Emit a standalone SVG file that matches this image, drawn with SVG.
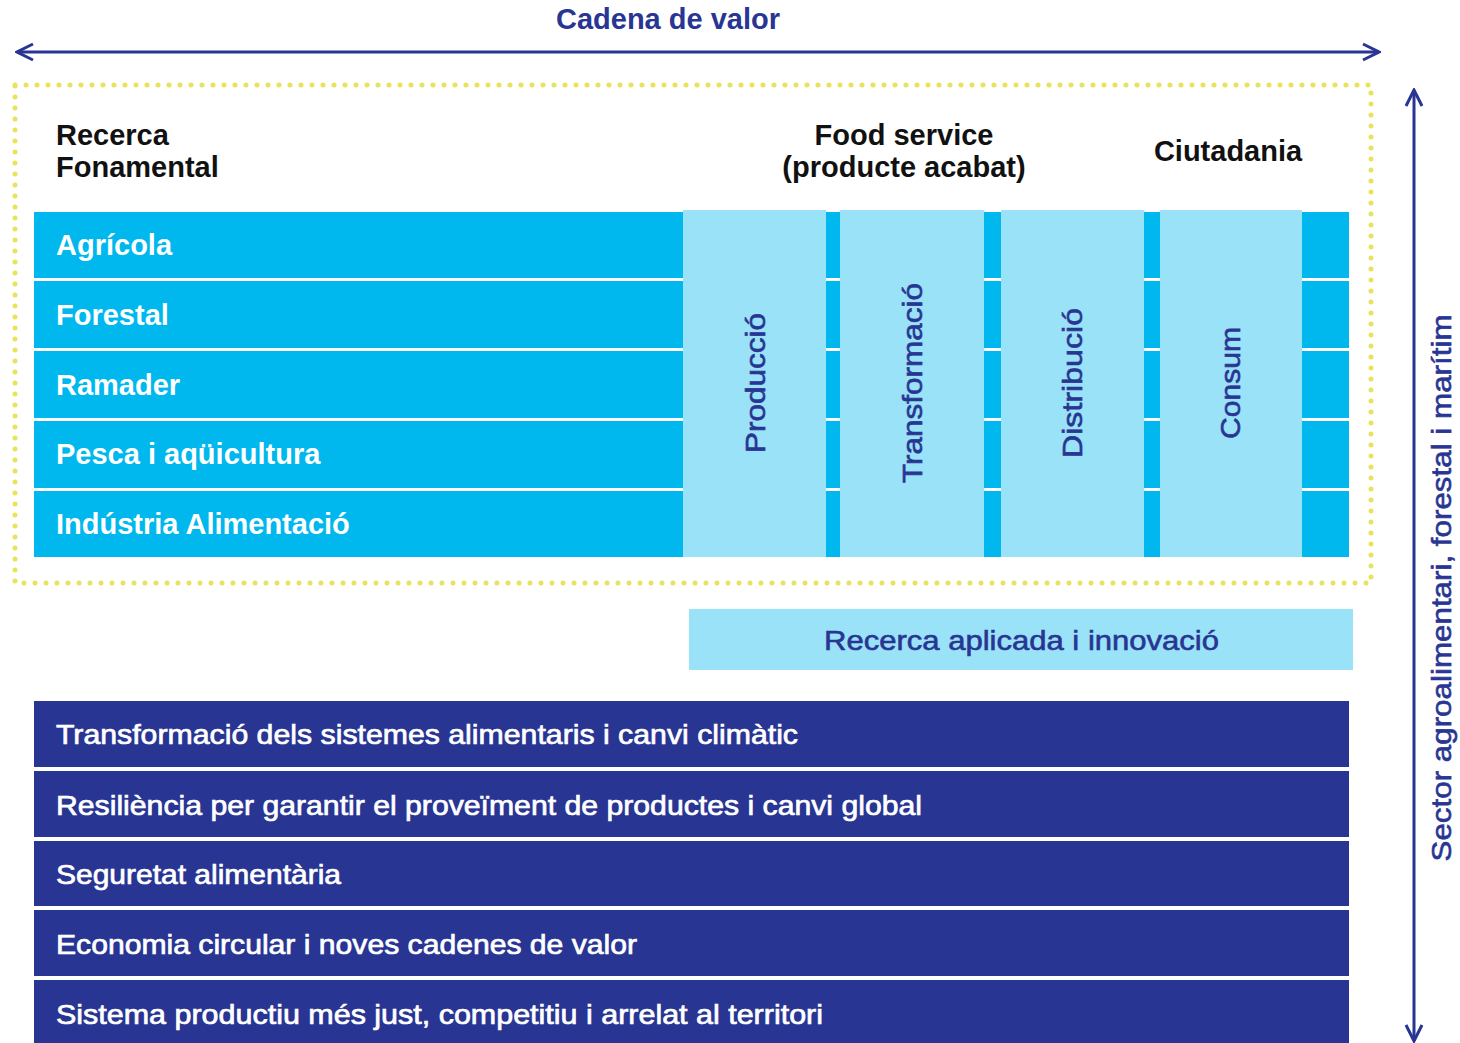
<svg xmlns="http://www.w3.org/2000/svg" width="1460" height="1043" viewBox="0 0 1460 1043">
<defs>
<style>
.t{font-family:"Liberation Sans",Arial,sans-serif}
.hd{font-size:29px;font-weight:bold;fill:#111}
.row{fill:#00b8ee}
.col{fill:#99e2f8}
.dark{fill:#283593}
.wl{font-size:29px;font-weight:bold;fill:#fff}
.wd{font-size:28px;fill:#fff;stroke:#fff;stroke-width:0.7}
.bl{font-size:28px;fill:#283593;stroke:#283593;stroke-width:0.6}
.ax{stroke:#283593;stroke-width:3;fill:none}
</style>
<marker id="ah" viewBox="0 0 20 20" refX="18" refY="10" markerWidth="20" markerHeight="20" markerUnits="userSpaceOnUse" orient="auto-start-reverse">
<path d="M2 2 L18 10 L2 18" fill="none" stroke="#283593" stroke-width="3"/>
</marker>
</defs>
<rect width="1460" height="1043" fill="#fff"/>
<g id="connectors">
<line class="ax" x1="17" y1="52" x2="1379" y2="52" marker-start="url(#ah)" marker-end="url(#ah)"/>
<line class="ax" x1="1414" y1="90" x2="1414" y2="1041" marker-start="url(#ah)" marker-end="url(#ah)"/>
</g>
<g id="title"><text class="t hd" x="668" y="29" text-anchor="middle" style="fill:#283593">Cadena de valor</text></g>
<g id="side-label"><text class="t bl" transform="translate(1451,588) rotate(-90)" text-anchor="middle" textLength="547" lengthAdjust="spacingAndGlyphs">Sector agroalimentari, forestal i marítim</text></g>
<g id="frame"><rect x="15" y="85" width="1356" height="498" fill="none" stroke="#e8e25c" stroke-width="5" stroke-dasharray="0 11" stroke-linecap="round"/></g>
<g id="headers">
<text class="t hd" x="56" y="145">Recerca</text>
<text class="t hd" x="56" y="177">Fonamental</text>
<text class="t hd" x="904" y="145" text-anchor="middle">Food service</text>
<text class="t hd" x="904" y="177" text-anchor="middle">(producte acabat)</text>
<text class="t hd" x="1228" y="161" text-anchor="middle">Ciutadania</text>
</g>
<g id="sector-rows">
<g id="agricola"><rect class="row" x="34" y="212" width="1315" height="66"/><text class="t wl" x="56" y="255">Agrícola</text></g>
<g id="forestal"><rect class="row" x="34" y="281" width="1315" height="67"/><text class="t wl" x="56" y="325">Forestal</text></g>
<g id="ramader"><rect class="row" x="34" y="351" width="1315" height="67"/><text class="t wl" x="56" y="395">Ramader</text></g>
<g id="pesca"><rect class="row" x="34" y="421" width="1315" height="67"/><text class="t wl" x="56" y="464">Pesca i aqüicultura</text></g>
<g id="industria"><rect class="row" x="34" y="491" width="1315" height="66"/><text class="t wl" x="56" y="534">Indústria Alimentació</text></g>
</g>
<g id="stage-columns">
<g id="produccio"><rect class="col" x="683" y="210" width="143" height="347"/><text class="t bl" transform="translate(765,383) rotate(-90)" text-anchor="middle" textLength="140" lengthAdjust="spacingAndGlyphs">Producció</text></g>
<g id="transformacio"><rect class="col" x="840" y="210" width="144" height="347"/><text class="t bl" transform="translate(922,383) rotate(-90)" text-anchor="middle" textLength="200" lengthAdjust="spacingAndGlyphs">Transformació</text></g>
<g id="distribucio"><rect class="col" x="1001" y="210" width="143" height="347"/><text class="t bl" transform="translate(1082,383) rotate(-90)" text-anchor="middle" textLength="150" lengthAdjust="spacingAndGlyphs">Distribució</text></g>
<g id="consum"><rect class="col" x="1160" y="210" width="142" height="347"/><text class="t bl" transform="translate(1240,383) rotate(-90)" text-anchor="middle" textLength="112" lengthAdjust="spacingAndGlyphs">Consum</text></g>
</g>
<g id="recerca-aplicada"><rect class="col" x="689" y="609" width="664" height="61"/><text class="t bl" x="824" y="650" textLength="395" lengthAdjust="spacingAndGlyphs">Recerca aplicada i innovació</text></g>
<g id="challenges">
<g id="c1"><rect class="dark" x="34" y="701" width="1315" height="66"/><text class="t wd" x="56" y="744" textLength="742" lengthAdjust="spacingAndGlyphs">Transformació dels sistemes alimentaris i canvi climàtic</text></g>
<g id="c2"><rect class="dark" x="34" y="771" width="1315" height="66"/><text class="t wd" x="56" y="815" textLength="866" lengthAdjust="spacingAndGlyphs">Resiliència per garantir el proveïment de productes i canvi global</text></g>
<g id="c3"><rect class="dark" x="34" y="841" width="1315" height="65"/><text class="t wd" x="56" y="884" textLength="285" lengthAdjust="spacingAndGlyphs">Seguretat alimentària</text></g>
<g id="c4"><rect class="dark" x="34" y="910" width="1315" height="66"/><text class="t wd" x="56" y="954" textLength="581" lengthAdjust="spacingAndGlyphs">Economia circular i noves cadenes de valor</text></g>
<g id="c5"><rect class="dark" x="34" y="980" width="1315" height="63"/><text class="t wd" x="56" y="1024" textLength="767" lengthAdjust="spacingAndGlyphs">Sistema productiu més just, competitiu i arrelat al territori</text></g>
</g>
</svg>
